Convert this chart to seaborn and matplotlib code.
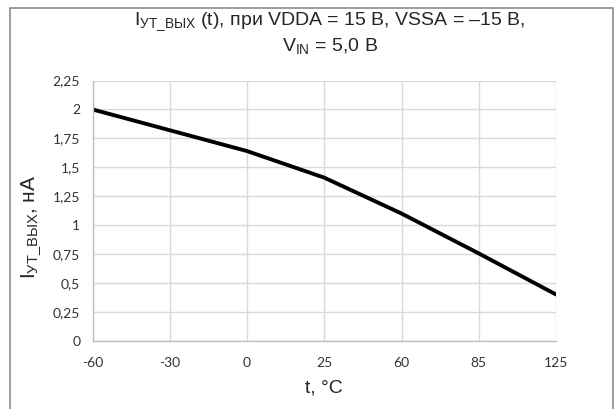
import matplotlib
matplotlib.use("Agg")
import matplotlib.pyplot as plt
import seaborn as sns
import pandas as pd
from matplotlib.patches import Rectangle

categories = ["-60", "-30", "0", "25", "60", "85", "125"]
values = [2.0, 1.82, 1.64, 1.41, 1.10, 0.755, 0.40]
y_ticks = [0, 0.25, 0.5, 0.75, 1, 1.25, 1.5, 1.75, 2, 2.25]
y_tick_labels = ["0", "0,25", "0,5", "0,75", "1", "1,25", "1,5", "1,75", "2", "2,25"]

sns.set_theme(style="whitegrid")
plt.rcParams['font.family'] = ['Liberation Sans', 'DejaVu Sans']
plt.rcParams['mathtext.fontset'] = 'custom'
plt.rcParams['mathtext.rm'] = 'Liberation Sans'
plt.rcParams['mathtext.it'] = 'Liberation Sans'

df = pd.DataFrame({"pos": list(range(len(categories))), "val": values})

fig = plt.figure(figsize=(6.16, 4.09), dpi=100)
ax = fig.add_axes([0.1505, 0.167, 0.752, 0.636])
sns.lineplot(data=df, x="pos", y="val", ax=ax, color="black", linewidth=2.8)

ax.set_xlim(0, len(categories) - 1)
ax.set_ylim(0, 2.25)
ax.set_xticks(range(len(categories)))
ax.set_xticklabels(categories, family="Lato", fontsize=10, color="#333333")
ax.set_yticks(y_ticks)
ax.set_yticklabels(y_tick_labels, family="Lato", fontsize=10, color="#333333")
ax.tick_params(axis="x", length=0, pad=12)
ax.tick_params(axis="y", length=0, pad=9)
ax.grid(True, color="#d9d9d9", linewidth=1.0)
for s in ["top", "right"]:
    ax.spines[s].set_visible(False)
for s in ["left", "bottom"]:
    ax.spines[s].set_color("#bfbfbf")
    ax.spines[s].set_linewidth(1.0)

ax.set_xlabel("t, °C", fontsize=14, labelpad=7)
ax.set_ylabel(r"I$_{\mathrm{УТ\_ВЫХ}}$, нА", fontsize=15)
ax.yaxis.set_label_coords(-0.107, 0.437)

fig.text(0.536, 0.948, r"I$_{\mathrm{УТ\_ВЫХ}}$ (t), при VDDA = 15 В, VSSA = –15 В,",
         ha="center", va="center", fontsize=14)
fig.text(0.536, 0.888, r"V$_{\mathrm{IN}}$ = 5,0 В", ha="center", va="center", fontsize=14)

fig.patches.append(Rectangle((0.017, -0.01), 0.978, 0.99, transform=fig.transFigure,
                             fill=False, edgecolor="#8c8c8c", linewidth=1.2))

fig.savefig("out.png", dpi=100)
